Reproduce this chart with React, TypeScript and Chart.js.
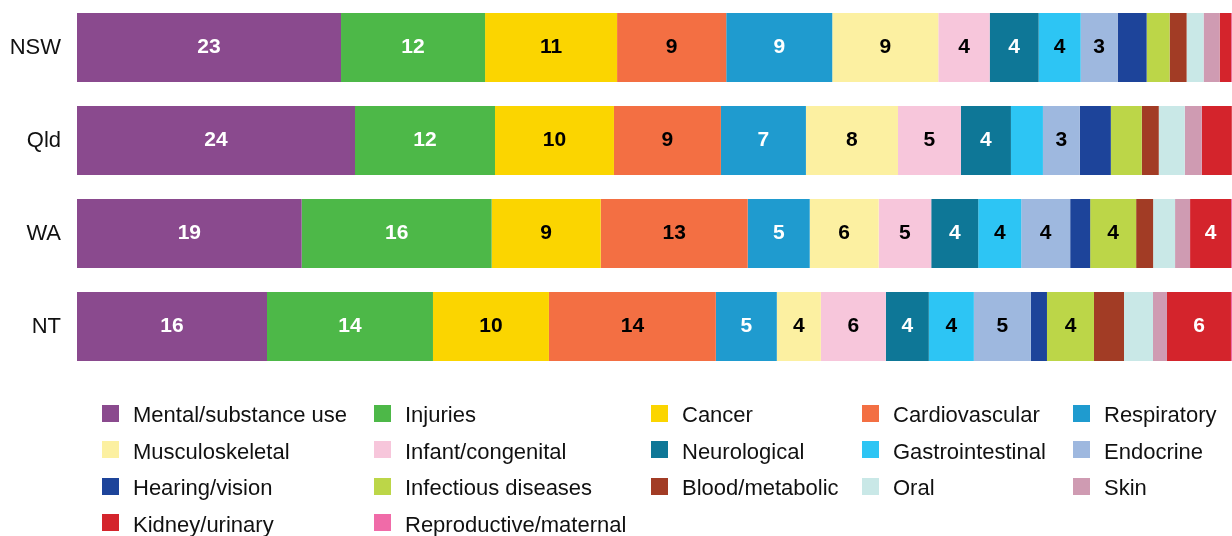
import React, { useEffect, useRef } from 'react';
import { Chart, registerables } from 'chart.js';

Chart.register(...registerables);

// ---- data ----
const categories = ['NSW', 'Qld', 'WA', 'NT'];

const seriesNames = [
  'Mental/substance use', 'Injuries', 'Cancer', 'Cardiovascular', 'Respiratory',
  'Musculoskeletal', 'Infant/congenital', 'Neurological', 'Gastrointestinal', 'Endocrine',
  'Hearing/vision', 'Infectious diseases', 'Blood/metabolic', 'Oral', 'Skin',
  'Kidney/urinary', 'Reproductive/maternal',
];

const mentalSubstanceUse = [22.86, 24.07, 19.45, 16.45];
const injuries = [12.47, 12.12, 16.45, 14.37];
const cancer = [11.43, 10.3, 9.44, 10.04];
const cardiovascular = [9.45, 9.26, 12.73, 14.45];
const respiratory = [9.18, 7.36, 5.37, 5.28];
const musculoskeletal = [9.18, 7.97, 5.97, 3.81];
const infantCongenital = [4.45, 5.45, 4.55, 5.63];
const neurological = [4.24, 4.33, 4.07, 3.72];
const gastrointestinal = [3.64, 2.77, 3.72, 3.9];
const endocrine = [3.2, 3.2, 4.24, 4.94];
const hearingVision = [2.51, 2.68, 1.73, 1.39];
const infectiousDiseases = [1.99, 2.68, 3.98, 4.07];
const bloodMetabolic = [1.47, 1.47, 1.47, 2.6];
const oral = [1.47, 2.25, 1.9, 2.51];
const skin = [1.39, 1.47, 1.3, 1.21];
const kidneyUrinary = [1.0, 2.6, 3.55, 5.54];
const reproductiveMaternal = [0.1, 0.2, 0.1, 0.1];

const seriesValues = [
  mentalSubstanceUse, injuries, cancer, cardiovascular, respiratory,
  musculoskeletal, infantCongenital, neurological, gastrointestinal, endocrine,
  hearingVision, infectiousDiseases, bloodMetabolic, oral, skin,
  kidneyUrinary, reproductiveMaternal,
];

const seriesColors = [
  '#8A4A8E', '#4DB848', '#FBD500', '#F36F43', '#1F9BCF',
  '#FCF0A1', '#F7C6DB', '#0E7797', '#2DC5F4', '#9EB8DF',
  '#1D449A', '#BCD648', '#A23C25', '#C9E8E7', '#CF9BB2',
  '#D4242C', '#F06BA8',
];

const labelColors = [
  '#FFFFFF', '#FFFFFF', '#000000', '#000000', '#FFFFFF',
  '#000000', '#000000', '#FFFFFF', '#000000', '#000000',
  '#FFFFFF', '#000000', '#FFFFFF', '#000000', '#000000',
  '#FFFFFF', '#000000',
];

const LABEL_MIN = 3;
const FONT = '"Liberation Sans", Arial, sans-serif';

// ---- plugins ----
const valueLabelPlugin = {
  id: 'valueLabels',
  afterDatasetsDraw(chart: any) {
    const { ctx, chartArea } = chart;
    ctx.save();
    ctx.font = `bold 21px ${FONT}`;
    ctx.textAlign = 'center';
    ctx.textBaseline = 'middle';
    chart.data.datasets.forEach((ds: any, di: number) => {
      const meta = chart.getDatasetMeta(di);
      meta.data.forEach((bar: any, i: number) => {
        const v = ds.data[i];
        if (v < LABEL_MIN) return;
        const { x, base, y } = bar.getProps(['x', 'base', 'y'], true);
        const left = Math.max(Math.min(x, base), chartArea.left);
        const right = Math.min(Math.max(x, base), chartArea.right);
        ctx.fillStyle = labelColors[di];
        ctx.fillText(String(Math.round(v)), (left + right) / 2, y);
      });
    });
    ctx.restore();
  },
};

const legendLayout = {
  columnsBox: [102, 374, 651, 862, 1073],
  textOffset: 31,
  rowTop: 413,
  rowStep: 36.5,
  box: 17,
  textShift: 3,
};

const gridLegendPlugin = {
  id: 'gridLegend',
  afterDraw(chart: any) {
    const { ctx } = chart;
    const L = legendLayout;
    const cols = L.columnsBox.length;
    ctx.save();
    ctx.font = `22px ${FONT}`;
    ctx.textAlign = 'left';
    ctx.textBaseline = 'middle';
    seriesNames.forEach((name, idx) => {
      const r = Math.floor(idx / cols);
      const c = idx % cols;
      const cy = L.rowTop + r * L.rowStep;
      const bx = L.columnsBox[c];
      ctx.fillStyle = seriesColors[idx];
      ctx.fillRect(bx, Math.round(cy - L.box / 2), L.box, L.box);
      ctx.fillStyle = '#111111';
      ctx.fillText(name, bx + L.textOffset, cy + L.textShift);
    });
    ctx.restore();
  },
};

export default function App() {
  const canvasRef = useRef<HTMLCanvasElement | null>(null);

  useEffect(() => {
    if (!canvasRef.current) return;
    const chart = new Chart(canvasRef.current, {
      type: 'bar',
      data: {
        labels: categories,
        datasets: seriesNames.map((name, i) => ({
          label: name,
          data: seriesValues[i],
          backgroundColor: seriesColors[i],
          borderWidth: 0,
          categoryPercentage: 1,
          barPercentage: 0.741,
        })),
      },
      options: {
        indexAxis: 'y',
        responsive: false,
        animation: false,
        devicePixelRatio: 1,
        layout: { autoPadding: false, padding: { left: 10, right: 0, top: 1, bottom: 163 } },
        plugins: {
          legend: { display: false },
          tooltip: { enabled: false },
        },
        scales: {
          x: {
            stacked: true,
            min: 0,
            max: 100,
            display: false,
          },
          y: {
            stacked: true,
            grid: { display: false, drawTicks: false, tickLength: 0 },
            border: { display: false },
            afterFit: (scale: any) => {
              scale.width = 67;
              scale.paddingTop = 0;
              scale.paddingBottom = 0;
            },
            ticks: {
              color: '#111111',
              padding: 16,
              font: { family: FONT, size: 22 },
            },
          },
        },
      },
      plugins: [valueLabelPlugin, gridLegendPlugin],
    });
    return () => chart.destroy();
  }, []);

  return (
    <div style={{ position: 'absolute', left: 0, top: 0, width: 1232, height: 536, background: '#fff' }}>
      <canvas ref={canvasRef} width={1232} height={536} style={{ display: 'block', width: 1232, height: 536 }} />
    </div>
  );
}
